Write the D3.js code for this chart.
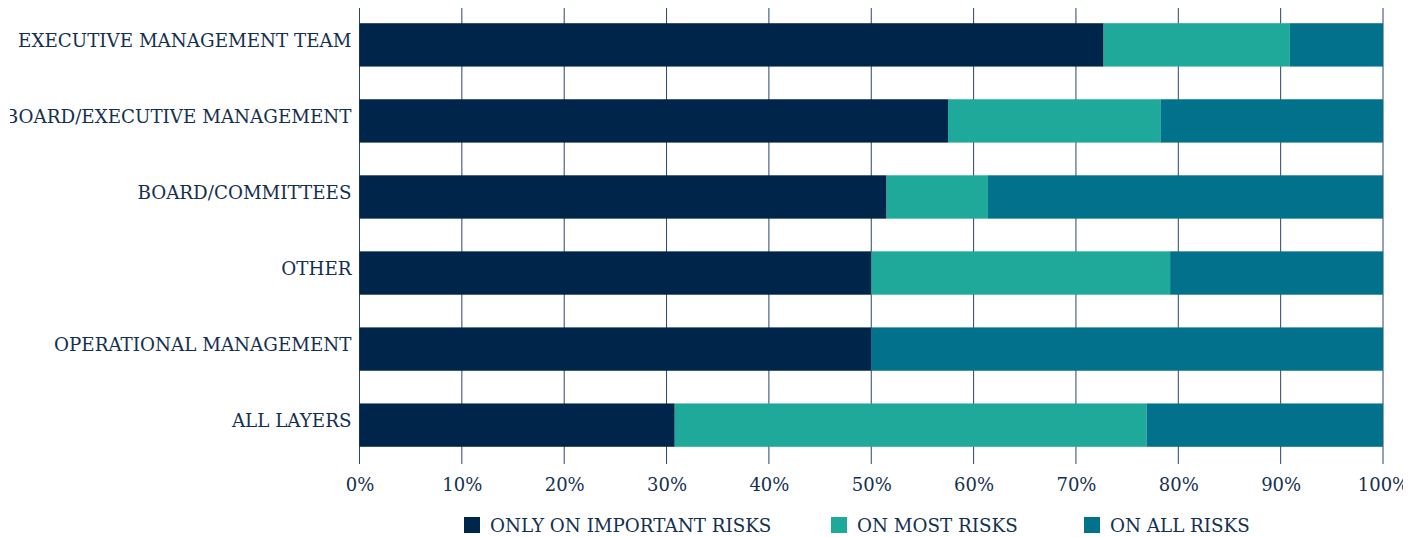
<!DOCTYPE html>
<html>
<head>
<meta charset="utf-8">
<script src="https://cdn.jsdelivr.net/npm/d3@7"></script>
<style>
  html, body { margin: 0; padding: 0; background: #ffffff; }
  svg { display: block; }
  text { font-family: "DejaVu Serif", "Liberation Serif", serif; fill: #14304f; }
</style>
</head>
<body>
<svg id="chart" width="1426" height="537"></svg>
<script>
// Who the risk reporting reaches, share of responses per layer
const categories = [
  "EXECUTIVE MANAGEMENT TEAM",
  "BOARD/EXECUTIVE MANAGEMENT",
  "BOARD/COMMITTEES",
  "OTHER",
  "OPERATIONAL MANAGEMENT",
  "ALL LAYERS"
];
const seriesNames = ["ONLY ON IMPORTANT RISKS", "ON MOST RISKS", "ON ALL RISKS"];
const onlyImportant = [72.7, 57.5, 51.5, 50.0, 50.0, 30.8];
const onMost        = [18.2, 20.8,  9.9, 29.2,  0.0, 46.1];
const onAll         = [ 9.1, 21.7, 38.6, 20.8, 50.0, 23.1];
const tickValues = [0, 10, 20, 30, 40, 50, 60, 70, 80, 90, 100];
const colors = ["#00254a", "#1ea99b", "#02728c"];

const rows = categories.map((c, i) => ({
  category: c,
  [seriesNames[0]]: onlyImportant[i],
  [seriesNames[1]]: onMost[i],
  [seriesNames[2]]: onAll[i]
}));

const svg = d3.select("#chart");

// visible drawing area of the widget
svg.append("defs").append("clipPath").attr("id", "frame")
  .append("rect").attr("x", 10).attr("y", 0).attr("width", 1393).attr("height", 537);
const root = svg.append("g").attr("clip-path", "url(#frame)");

const x = d3.scaleLinear().domain([0, 100]).range([359.5, 1383]);
const y = d3.scaleBand().domain(categories).range([8, 462])
  .paddingInner(0.43).paddingOuter(0.2);
const color = d3.scaleOrdinal().domain(seriesNames).range(colors);

// vertical gridlines (drawn behind the bars)
root.append("g").selectAll("line")
  .data(tickValues)
  .join("line")
  .attr("x1", d => x(d)).attr("x2", d => x(d))
  .attr("y1", 8).attr("y2", 464)
  .attr("stroke", "#2b4566")
  .attr("stroke-width", 1);

// stacked bars
const stacked = d3.stack().keys(seriesNames)(rows);
root.append("g").selectAll("g")
  .data(stacked)
  .join("g")
  .attr("fill", d => color(d.key))
  .selectAll("rect")
  .data(d => d)
  .join("rect")
  .attr("x", d => x(d[0]))
  .attr("width", d => Math.max(0, x(d[1]) - x(d[0])))
  .attr("y", d => y(d.data.category))
  .attr("height", y.bandwidth());

// category labels
const yAxis = d3.axisLeft(y).tickSize(0).tickPadding(0);
const yg = root.append("g").attr("transform", "translate(351.5,0)").call(yAxis);
yg.select(".domain").remove();
yg.selectAll("text")
  .attr("font-size", 18.3)
  .attr("dy", "0.12em")
  .style("font-family", '"DejaVu Serif", serif')
  .attr("fill", "#14304f");

// percentage axis
const xAxis = d3.axisBottom(x).tickValues(tickValues)
  .tickFormat(d => d + "%").tickSize(0).tickPadding(0);
const xg = root.append("g").attr("transform", "translate(0,478)").call(xAxis);
xg.select(".domain").remove();
xg.selectAll("text")
  .attr("font-size", 18)
  .style("font-family", '"DejaVu Serif", serif')
  .attr("fill", "#14304f");

// legend
const legendX = [464, 831, 1084];
const legend = root.append("g").selectAll("g")
  .data(seriesNames)
  .join("g")
  .attr("transform", (d, i) => `translate(${legendX[i]},517)`);
legend.append("rect")
  .attr("width", 16).attr("height", 16)
  .attr("fill", d => color(d));
legend.append("text")
  .attr("x", 26).attr("y", 15)
  .attr("font-size", 18.3)
  .text(d => d);
</script>
</body>
</html>
